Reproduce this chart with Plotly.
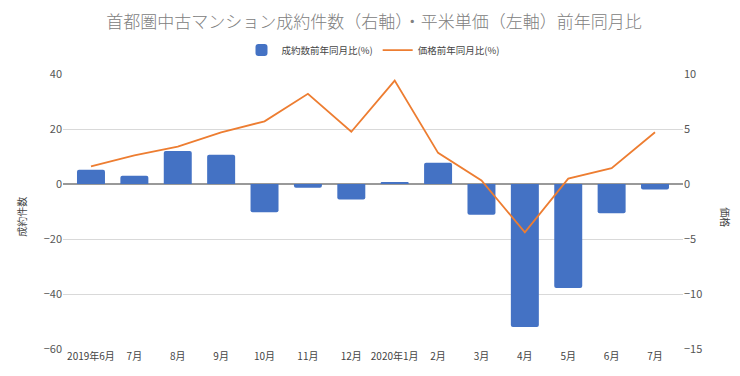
import plotly.graph_objects as go

months = ["2019年6月", "7月", "8月", "9月", "10月", "11月", "12月", "2020年1月",
          "2月", "3月", "4月", "5月", "6月", "7月"]
contracts_yoy = [5.2, 3.0, 12.0, 10.6, -10.3, -1.4, -5.6, 0.5, 7.7, -11.2, -52.0, -37.8, -10.6, -2.0]
price_yoy = [1.6, 2.6, 3.4, 4.7, 5.7, 8.2, 4.75, 9.4, 2.83, 0.33, -4.4, 0.49, 1.44, 4.7]

font_family = "Noto Sans CJK JP"
x_idx = list(range(len(months)))

fig = go.Figure()
fig.add_trace(go.Bar(
    x=x_idx, y=contracts_yoy, name="成約数前年同月比(%)",
    marker=dict(color="#4472C4", line=dict(width=0)),
    width=0.645, yaxis="y",
))
fig.add_trace(go.Scatter(
    x=x_idx, y=price_yoy, name="価格前年同月比(%)", mode="lines",
    line=dict(color="#ED7D31", width=1.8), yaxis="y2",
))

# page body has an 8px margin, so figure is sized/offset to compensate
fig.update_layout(
    width=732, height=368,
    margin=dict(l=55, r=57, t=66, b=27),
    paper_bgcolor="white", plot_bgcolor="white",
    font=dict(family=font_family, size=10, color="#444444"),
    title=dict(text="首都圏中古マンション成約件数（右軸）・平米単価（左軸）前年同月比",
               x=0.5, xanchor="center", xref="container",
               y=0.962, yanchor="middle", yref="container",
               font=dict(size=17, color="#808080", family=font_family, weight=300)),
    legend=dict(orientation="h", x=0.5, xanchor="center", y=1.087, yanchor="middle",
                font=dict(size=9.5, color="#444444"), itemwidth=30,
                traceorder="normal"),
    barcornerradius=2,
    xaxis=dict(
        tickmode="array", tickvals=x_idx, ticktext=months,
        range=[-0.645, 13.645], showgrid=False, zeroline=False,
        showline=False, ticks="", tickfont=dict(size=10, color="#444444"),
        automargin=False,
    ),
    yaxis=dict(
        range=[-60, 40], dtick=20, tick0=0,
        showgrid=True, gridcolor="#d9d9d9", gridwidth=1,
        zeroline=True, zerolinecolor="#999999", zerolinewidth=1.5,
        tickfont=dict(size=11, color="#555555"),
        ticks="", showline=False, automargin=False,
    ),
    yaxis2=dict(
        range=[-15, 10], dtick=5, tick0=0, overlaying="y", side="right",
        showgrid=False, zeroline=False,
        tickfont=dict(size=11, color="#555555"),
        ticks="", showline=False, automargin=False,
    ),
    annotations=[
        dict(text="成約件数", xref="paper", yref="paper", x=-0.068, y=0.48,
             showarrow=False, textangle=-90, font=dict(size=10, color="#444444"),
             xanchor="center", yanchor="middle"),
        dict(text="価格", xref="paper", yref="paper", x=1.069, y=0.48,
             showarrow=False, textangle=90, font=dict(size=10, color="#444444"),
             xanchor="center", yanchor="middle"),
    ],
)

fig.write_html("out.html")
